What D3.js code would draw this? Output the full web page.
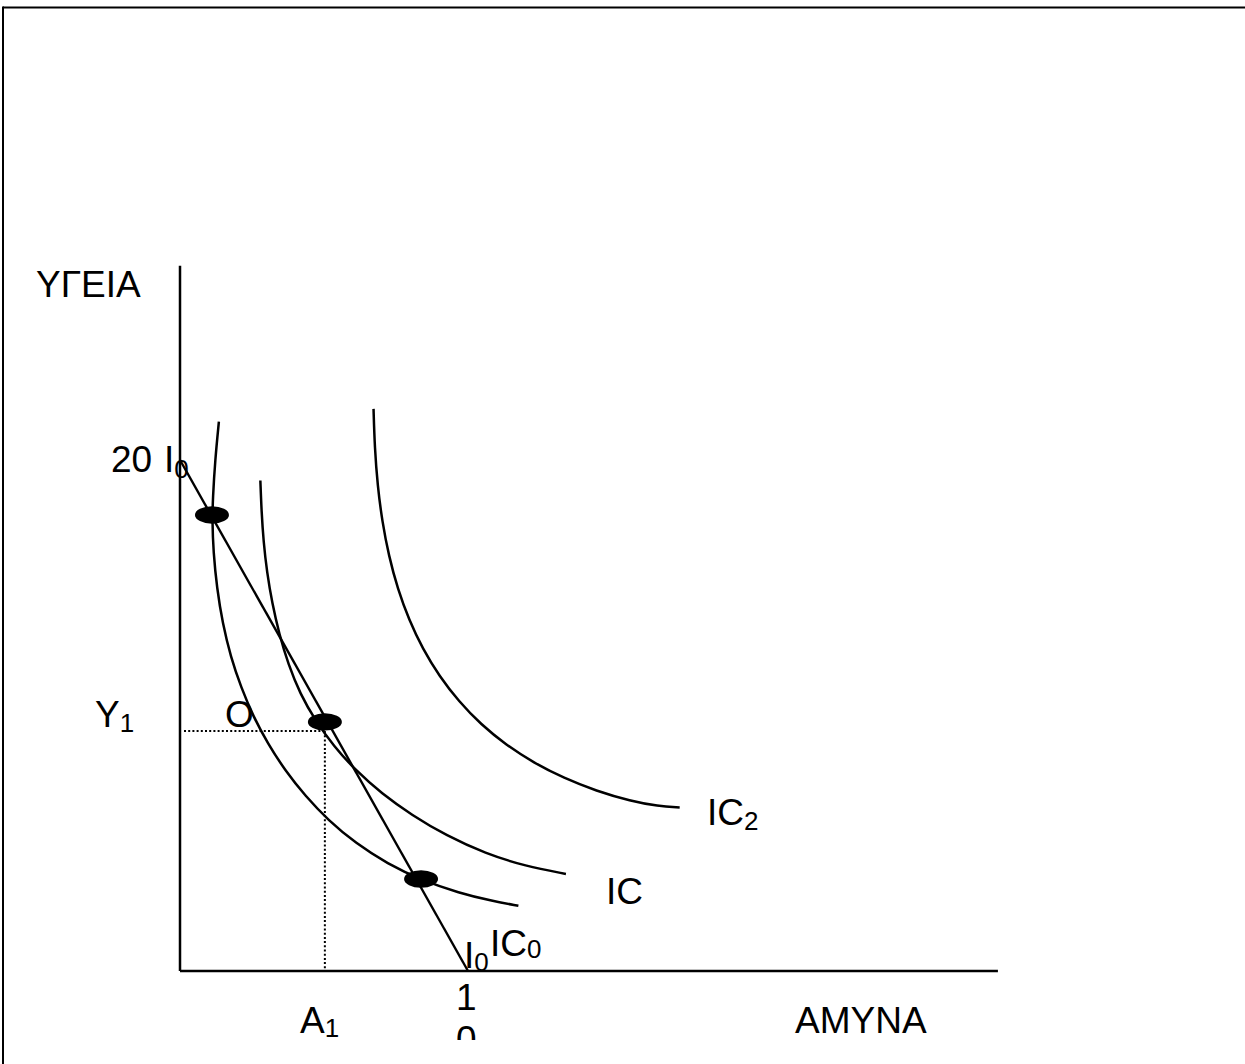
<!DOCTYPE html>
<html>
<head>
<meta charset="utf-8">
<script src="https://cdn.jsdelivr.net/npm/d3@7"></script>
<style>
  html, body { margin: 0; padding: 0; background: #fff; }
  svg { display: block; }
  text { font-family: "Liberation Sans", Arial, sans-serif; fill: #000; }
</style>
</head>
<body>
<svg id="chart" width="1245" height="1064"></svg>
<script>
// ---------- data (economic units) ----------
const axisLabels = { x: "ΑΜΥΝΑ", y: "ΥΓΕΙΑ" };
const axisMax = { x: 28.4, y: 27.6 };

// budget line I0 : intercepts 20 (health) and 10 (defence)
const budgetLine = [[0, 20], [10, 0]];

// indifference curves
const ic0 = [[1.35,21.5],[1.22,20.0],[1.14,18.5],[1.12,17.6],[1.16,16.4],[1.28,15.0],[1.48,13.6],
             [1.76,12.3],[2.12,11.1],[2.55,9.95],[3.05,8.9],[3.65,7.85],[4.35,6.85],[5.15,5.9],
             [6.10,5.0],[7.20,4.2],[8.40,3.55],[9.70,3.05],[10.80,2.75],[11.75,2.55]];
const ic1 = [[2.79,19.2],[2.83,18.0],[2.90,16.8],[3.02,15.6],[3.20,14.4],[3.44,13.2],[3.76,12.0],
             [4.17,10.85],[4.70,9.8],[5.34,8.8],[6.10,7.85],[7.00,6.95],[8.05,6.1],[9.25,5.3],
             [10.60,4.6],[12.00,4.1],[13.40,3.8]];
const ic2 = [[6.72,22.0],[6.76,20.5],[6.86,19.0],[7.02,17.6],[7.25,16.25],[7.56,14.95],[7.95,13.75],
             [8.43,12.6],[9.00,11.55],[9.68,10.55],[10.45,9.65],[11.32,8.85],[12.28,8.15],
             [13.33,7.55],[14.45,7.05],[15.65,6.65],[16.60,6.45],[17.35,6.4]];
const curveNames = ["IC0", "IC", "IC2"];

// equilibrium / intersection points
const points = [[1.11, 17.85], [5.03, 9.75], [8.37, 3.60]];

// optimum O : (A1, Y1)
const optimum = { a: 5.03, y: 9.39 };
const tickLabels = { y20: "20", y1: "Y", a1: "A", x10a: "1", x10b: "0" };

// ---------- scales ----------
const svg = d3.select("#chart");
const x = d3.scaleLinear().domain([0, 10]).range([180, 468]);
const y = d3.scaleLinear().domain([0, 20]).range([971, 460]);

// frame
svg.append("line").attr("x1", 3).attr("y1", 7.5).attr("x2", 1245).attr("y2", 7.5)
  .attr("stroke", "#000").attr("stroke-width", 2);
svg.append("line").attr("x1", 3).attr("y1", 6.5).attr("x2", 3).attr("y2", 1064)
  .attr("stroke", "#000").attr("stroke-width", 2);

// axes
svg.append("line").attr("x1", x(0)).attr("y1", y(axisMax.y)).attr("x2", x(0)).attr("y2", y(0))
  .attr("stroke", "#000").attr("stroke-width", 2.5);
svg.append("line").attr("x1", x(0)).attr("y1", y(0)).attr("x2", x(axisMax.x)).attr("y2", y(0))
  .attr("stroke", "#000").attr("stroke-width", 2.5);

// dotted guides
const dotted = svg.append("g").attr("stroke", "#000").attr("stroke-width", 2)
  .attr("stroke-dasharray", "2,2.2").attr("fill", "none");
dotted.append("line").attr("x1", x(0) + 4).attr("y1", y(optimum.y))
  .attr("x2", x(optimum.a)).attr("y2", y(optimum.y));
dotted.append("line").attr("x1", x(optimum.a)).attr("y1", y(optimum.y))
  .attr("x2", x(optimum.a)).attr("y2", y(0));

// curves
const lineGen = d3.line().x(d => x(d[0])).y(d => y(d[1])).curve(d3.curveBasis);
[ic0, ic1, ic2].forEach(c => {
  svg.append("path").attr("d", lineGen(c)).attr("fill", "none")
    .attr("stroke", "#000").attr("stroke-width", 2.5);
});

// budget line
svg.append("path").attr("d", d3.line().x(d => x(d[0])).y(d => y(d[1]))(budgetLine))
  .attr("fill", "none").attr("stroke", "#000").attr("stroke-width", 2.4);

// points
svg.selectAll("ellipse.pt").data(points).join("ellipse")
  .attr("cx", d => x(d[0])).attr("cy", d => y(d[1]))
  .attr("rx", 17).attr("ry", 8.7).attr("fill", "#000");

// ---------- text ----------
const FS = 37, SFS = 26;
function label(px, py, main, sub, subDy, anchor) {
  const t = svg.append("text").attr("x", px).attr("y", py).attr("font-size", FS)
    .attr("text-anchor", anchor || "start");
  t.append("tspan").text(main);
  if (sub !== undefined) {
    t.append("tspan").attr("font-size", SFS).attr("dy", subDy).text(sub);
  }
  return t;
}

label(36, 297, axisLabels.y);
label(795, 1033, axisLabels.x);

label(111, y(20) + 12, tickLabels.y20);
label(164, y(20) + 12, "I", "0", 6);
label(95, y(optimum.y) - 4, tickLabels.y1, "1", 5);
label(225, y(optimum.y) - 4, "O");
label(300, 1033, tickLabels.a1, "1", 4);

// "10" wrapped in a narrow box, second line clipped
svg.append("clipPath").attr("id", "clipBottom").append("rect")
  .attr("x", 0).attr("y", 0).attr("width", 1245).attr("height", 1040);
const ten = svg.append("g").attr("clip-path", "url(#clipBottom)");
ten.append("text").attr("x", x(10) - 12).attr("y", 1010).attr("font-size", FS).text(tickLabels.x10a);
ten.append("text").attr("x", x(10) - 12).attr("y", 1052).attr("font-size", FS).text(tickLabels.x10b);

label(x(10) - 4, y(0) - 3, "I", "0", 3);
label(490, 956, "IC", "0", 2);
label(606, 904, "IC");
label(707, 825, "IC", "2", 5);
</script>
</body>
</html>
